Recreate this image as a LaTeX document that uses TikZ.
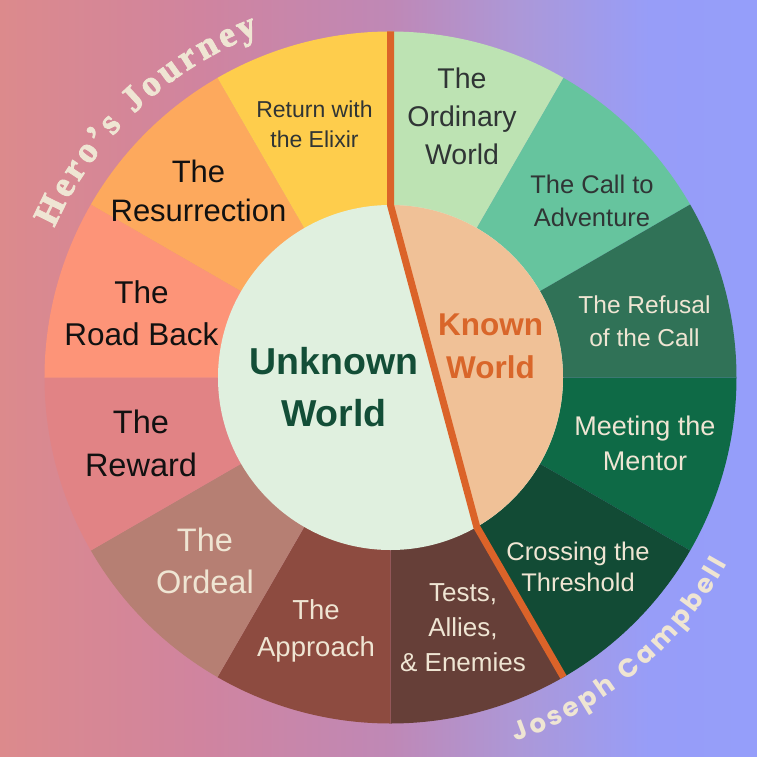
\documentclass[tikz,border=0pt]{standalone}
\usepackage{fontspec}
\setmainfont{Liberation Sans}
\newfontfamily\herofont{Liberation Serif}[BoldFeatures={FakeBold=2.5}]
\newfontfamily\jcfont{Poppins}
\usetikzlibrary{decorations.text}
\definecolor{bgA}{HTML}{DC8A8C}
\definecolor{bgB}{HTML}{D0849F}
\definecolor{bgC}{HTML}{BF88B6}
\definecolor{bgD}{HTML}{AC98D8}
\definecolor{bgE}{HTML}{979DF8}
\definecolor{bgF}{HTML}{959EFA}
\definecolor{cOrd}{HTML}{BDE3B3}
\definecolor{cCall}{HTML}{66C49E}
\definecolor{cRef}{HTML}{307257}
\definecolor{cMeet}{HTML}{0E6A46}
\definecolor{cCross}{HTML}{124B35}
\definecolor{cTest}{HTML}{663F38}
\definecolor{cAppr}{HTML}{8D4B40}
\definecolor{cOrdeal}{HTML}{B67F73}
\definecolor{cRew}{HTML}{E18385}
\definecolor{cRoad}{HTML}{FD9478}
\definecolor{cRes}{HTML}{FDA95D}
\definecolor{cRet}{HTML}{FECD4C}
\definecolor{cInner}{HTML}{E0F0DF}
\definecolor{cKnown}{HTML}{F0C197}
\definecolor{cLine}{HTML}{DB6329}
\definecolor{tUnk}{HTML}{134E37}
\definecolor{tKnown}{HTML}{D9662A}
\definecolor{tDark}{HTML}{303535}
\definecolor{tBlack}{HTML}{111111}
\definecolor{tCream}{HTML}{EFE5D3}
\pgfdeclarehorizontalshading{bgshade}{100bp}{color(0bp)=(bgA); color(25bp)=(bgA); color(38.2bp)=(bgB); color(50.8bp)=(bgC); color(59.3bp)=(bgD); color(67.9bp)=(bgE); color(75bp)=(bgF); color(100bp)=(bgF)}
\tikzset{
  lbl/.style={align=center, inner sep=0pt},
  divider/.style={draw=cLine, line width=7pt, line join=miter},
}
\begin{document}
\begin{tikzpicture}[x=1pt,y=1pt]
\useasboundingbox (-390.5,-378.5) rectangle (366.5,377.5);
\shade[shading=bgshade] (-390.5,-378.5) rectangle (366.5,377.5);
\foreach \a/\c in {90/cOrd,60/cCall,30/cRef,0/cMeet,-30/cCross,-60/cTest,-90/cAppr,-120/cOrdeal,-150/cRew,-180/cRoad,150/cRes,120/cRet}
  \fill[\c] (0,0) -- (\a:346) arc[start angle=\a, delta angle=-30, radius=346] -- cycle;
\fill[cInner] (0,0) circle[radius=172.5];
\fill[cKnown] (90:172.5) arc[start angle=90, end angle=-60, radius=172.5] -- cycle;
\draw[divider] (90:346) -- (90:172.5) -- (-60:172.5) -- (-60:346);

\node[lbl, text=tDark, font=\fontsize{28.5}{38}\selectfont] (ord) at (71.5,261.5) {The\\Ordinary\\World};
\node[lbl, text=tDark, font=\fontsize{25.5}{33}\selectfont] (call) at (201.5,176.5) {The Call to\\Adventure};
\node[lbl, text=tCream, font=\fontsize{24.5}{33}\selectfont] (refusal) at (254,56.5) {The Refusal\\of the Call};
\node[lbl, text=tCream, font=\fontsize{27}{34.5}\selectfont] (mentor) at (254.5,-66) {Meeting the\\Mentor};
\node[lbl, text=tCream, font=\fontsize{25.5}{31}\selectfont] (cross) at (187.5,-189) {Crossing the\\Threshold};
\node[lbl, text=tCream, font=\fontsize{26}{35}\selectfont] (tests) at (72.5,-250) {Tests,\\Allies,\\\& Enemies};
\node[lbl, text=tCream, font=\fontsize{27.5}{37}\selectfont] (appr) at (-74.5,-253.4) {The\\Approach};
\node[lbl, text=tCream, font=\fontsize{32.5}{42}\selectfont] (ordeal) at (-185.5,-183.5) {The\\Ordeal};
\node[lbl, text=tBlack, font=\fontsize{32.5}{43}\selectfont] (reward) at (-249.5,-66) {The\\Reward};
\node[lbl, text=tBlack, font=\fontsize{31.5}{42}\selectfont] (road) at (-249,64.5) {The\\Road Back};
\node[lbl, text=tBlack, font=\fontsize{31}{39}\selectfont] (resur) at (-192,187) {The\\Resurrection};
\node[lbl, text=tDark, font=\fontsize{23}{30}\selectfont] (ret) at (-76,253) {Return with\\the Elixir};
\node[lbl, text=tUnk, font=\bfseries\fontsize{37.5}{52}\selectfont] (unk) at (-56.5,-10) {Unknown\\World};
\node[lbl, text=tKnown, font=\bfseries\fontsize{31.5}{43}\selectfont] (known) at (100,31) {Known\\World};

\path[decorate, decoration={text along path, text color=tCream,
  text={|\herofont\bfseries\fontsize{36}{36}\selectfont|Hero’s Journey},
  text align={fit to path}}]
  (156:368) arc[start angle=156, end angle=111, radius=368];
\path[decorate, decoration={text along path, text color=tCream,
  text={|\jcfont\bfseries\fontsize{26}{26}\selectfont|Joseph Campbell},
  text align={fit to path}}]
  (-71:385) arc[start angle=-71, end angle=-29, radius=385];
\end{tikzpicture}
\end{document}
